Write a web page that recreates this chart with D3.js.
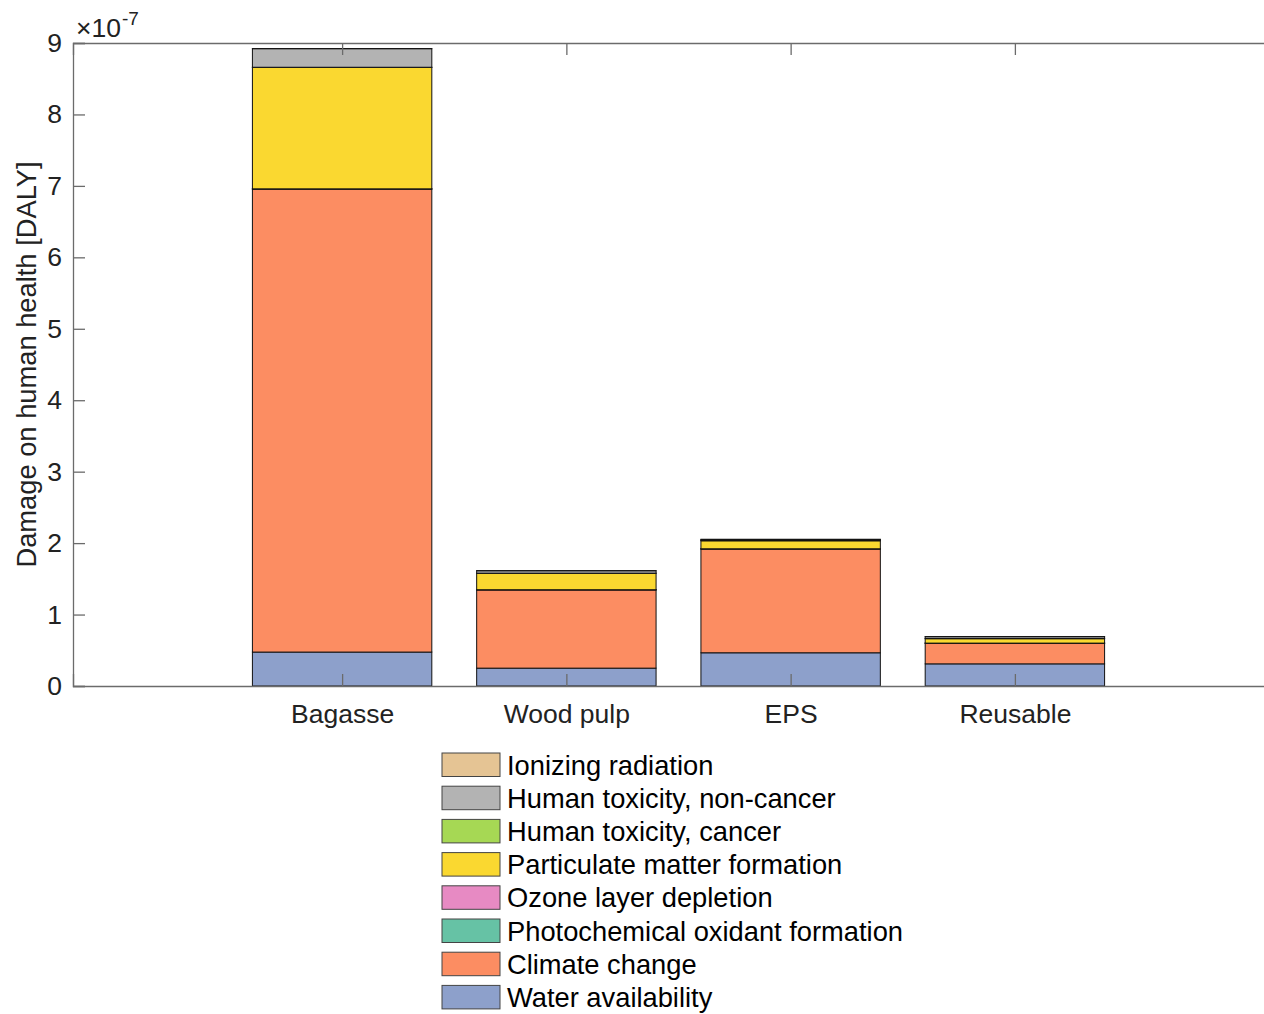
<!DOCTYPE html>
<html>
<head>
<meta charset="utf-8">
<script src="https://cdn.jsdelivr.net/npm/d3@7/dist/d3.min.js"></script>
<style>
  html, body { margin: 0; padding: 0; background: #fff; }
  svg { display: block; font-family: "Liberation Sans", Arial, Helvetica, sans-serif; }
</style>
</head>
<body>
<svg id="chart" width="1264" height="1014"></svg>
<script>
// Packaging alternatives compared
const categories = ["Bagasse", "Wood pulp", "EPS", "Reusable"];

// Damage contributions in units of 1e-7 DALY, listed bottom-to-top of each stack
const waterAvailability      = [0.475, 0.250, 0.465, 0.310];
const climateChange          = [6.480, 1.095, 1.452, 0.288];
const photochemicalOxidant   = [0.003, 0.002, 0.003, 0.002];
const ozoneDepletion         = [0.0005, 0.0003, 0.0004, 0.0003];
const particulateMatter      = [1.700, 0.230, 0.112, 0.062];
const humanToxCancer         = [0.002, 0.002, 0.004, 0.002];
const humanToxNonCancer      = [0.260, 0.034, 0.015, 0.026];
const ionizingRadiation      = [0.001, 0.001, 0.002, 0.001];

const seriesNames = [
  "Water availability",
  "Climate change",
  "Photochemical oxidant formation",
  "Ozone layer depletion",
  "Particulate matter formation",
  "Human toxicity, cancer",
  "Human toxicity, non-cancer",
  "Ionizing radiation"
];
const seriesValues = [
  waterAvailability, climateChange, photochemicalOxidant, ozoneDepletion,
  particulateMatter, humanToxCancer, humanToxNonCancer, ionizingRadiation
];
const seriesColors = [
  "#8da0cb", "#fc8d62", "#66c2a5", "#e78ac3",
  "#fad830", "#a6d854", "#b3b3b3", "#e5c494"
];

const yTicks = [0, 1, 2, 3, 4, 5, 6, 7, 8, 9];
const yLabel = "Damage on human health [DALY]";

const svg = d3.select("#chart");
const plotLeft = 73, plotTop = 43, plotBottom = 686, plotRight = 1284;
const axisColor = "#6b6b6b";
const textColor = "#222";
const tickFont = 26.5;
const labelFont = 27.3;
const tickLen = 12;

// Positions: categories sit at 1..4, axis limits leave room on both ends
const x = d3.scaleLinear().domain([-0.2, 5.2]).range([plotLeft, plotRight]);
const y = d3.scaleLinear().domain([0, 9]).range([plotBottom, plotTop]);
const barHalf = 0.4;

// Build stacked table
const rows = categories.map((c, i) => {
  const r = { category: c, pos: i + 1 };
  seriesNames.forEach((s, k) => { r[s] = seriesValues[k][i]; });
  return r;
});
const stacked = d3.stack().keys(seriesNames)(rows);

const bars = svg.append("g");
stacked.forEach((layer, k) => {
  bars.selectAll(null)
    .data(layer)
    .join("rect")
    .attr("x", d => x(d.data.pos - barHalf))
    .attr("width", d => x(d.data.pos + barHalf) - x(d.data.pos - barHalf))
    .attr("y", d => y(d[1]))
    .attr("height", d => y(d[0]) - y(d[1]))
    .attr("fill", seriesColors[k])
    .attr("stroke", "#111")
    .attr("stroke-width", 1);
});

// Axes box (left, bottom, top), ticks pointing inward
const axes = svg.append("g");
const styleAxis = g => {
  g.select(".domain").attr("stroke", axisColor).attr("stroke-width", 1.3);
  g.selectAll(".tick line").attr("stroke", axisColor).attr("stroke-width", 1.3);
  g.selectAll(".tick text").attr("fill", textColor).style("font-size", tickFont + "px")
    .style("font-family", "'Liberation Sans', Arial, sans-serif");
};

const yAxis = d3.axisLeft(y).tickValues(yTicks).tickSize(-tickLen)
  .tickPadding(11).tickFormat(d3.format("d"));
axes.append("g").attr("transform", `translate(${plotLeft},0)`).call(yAxis).call(styleAxis);

const xAxisBottom = d3.axisBottom(x).tickValues([1, 2, 3, 4]).tickSize(-tickLen)
  .tickPadding(18).tickFormat(d => categories[d - 1]);
axes.append("g").attr("transform", `translate(0,${plotBottom})`).call(xAxisBottom).call(styleAxis);

const xAxisTop = d3.axisTop(x).tickValues([1, 2, 3, 4]).tickSize(-tickLen).tickFormat("");
axes.append("g").attr("transform", `translate(0,${plotTop})`).call(xAxisTop).call(styleAxis);

// Scale exponent label
const expo = svg.append("text")
  .attr("x", 76).attr("y", 37)
  .attr("fill", textColor)
  .style("font-size", tickFont + "px");
expo.append("tspan").text("\u00d710");
expo.append("tspan").attr("dx", 1).attr("dy", -12).style("font-size", "19px").text("-7");

// Y axis title
svg.append("text")
  .attr("transform", `translate(36,${(plotTop + plotBottom) / 2}) rotate(-90)`)
  .attr("text-anchor", "middle")
  .attr("fill", textColor)
  .style("font-size", labelFont + "px")
  .text(yLabel);

// Legend, listed top-to-bottom in reverse stacking order
const legendItems = seriesNames.map((n, k) => ({ name: n, color: seriesColors[k] })).reverse();
const legend = svg.append("g").attr("transform", "translate(442,753)");
const rowH = 33.2;
const item = legend.selectAll("g").data(legendItems).join("g")
  .attr("transform", (d, i) => `translate(0,${i * rowH})`);
item.append("rect")
  .attr("width", 58).attr("height", 23.5)
  .attr("fill", d => d.color)
  .attr("stroke", "#444").attr("stroke-width", 1);
item.append("text")
  .attr("x", 65).attr("y", 21.5)
  .attr("fill", "#000")
  .style("font-size", labelFont + "px")
  .text(d => d.name);
</script>
</body>
</html>
